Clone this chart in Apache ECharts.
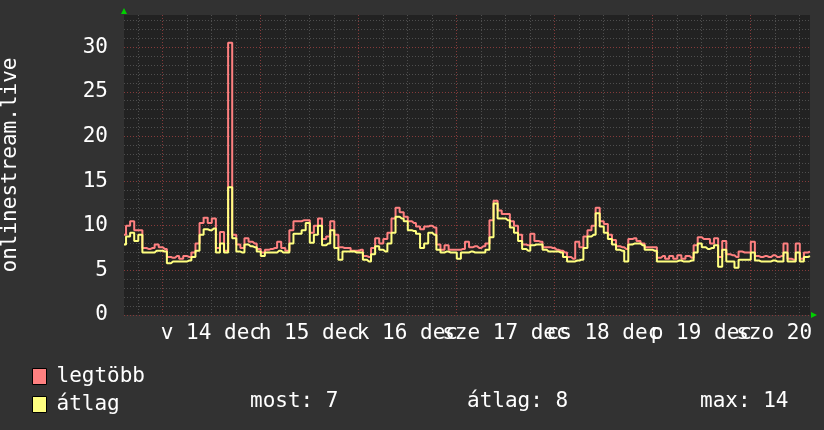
<!DOCTYPE html>
<html>
<head>
<meta charset="utf-8">
<script src="https://cdn.jsdelivr.net/npm/echarts@6/dist/echarts.min.js"></script>
<style>
html, body { margin: 0; padding: 0; background: #323232; }
#c { width: 824px; height: 430px; }
</style>
</head>
<body>
<div id="c"></div>
<script>
// ---- data ----
const seriesNames = ['legtöbb', 'átlag'];
// time in hours relative to 14 Dec 00:00; one sample per hour
const firstHour = -9.4;
const lastHour = 158.6;
const maxValues = [
  9.0, 10.0, 10.5, 9.5, 9.5, 7.5, 7.4, 7.5, 7.9, 7.6,
  7.4, 6.5, 6.4, 6.6, 6.3, 6.6, 6.5, 7.0, 8.0, 10.3,
  10.9, 10.3, 10.8, 7.5, 9.3, 7.2, 30.5, 9.0, 7.9, 7.5,
  8.6, 8.2, 8.0, 7.4, 7.0, 7.3, 7.4, 7.5, 8.2, 7.5,
  7.2, 9.5, 10.5, 10.5, 10.6, 10.6, 9.2, 10.0, 10.8, 8.5,
  8.8, 10.5, 9.0, 7.6, 7.5, 7.5, 7.2, 7.2, 7.3, 6.6,
  6.5, 7.5, 8.6, 8.0, 8.5, 9.2, 10.8, 12.0, 11.5, 11.0,
  10.5, 10.3, 9.9, 9.6, 9.9, 10.0, 9.8, 7.9, 7.3, 7.8,
  7.3, 7.3, 7.3, 7.4, 8.2, 7.6, 7.7, 7.5, 7.7, 8.0,
  10.6, 12.8, 11.7, 11.3, 11.3, 10.5, 10.0, 9.0, 7.9, 7.8,
  9.1, 8.3, 8.2, 7.6, 7.6, 7.5, 7.3, 7.2, 7.0, 6.5,
  6.3, 8.2, 7.6, 8.8, 9.5, 10.0, 12.0, 10.5, 10.2, 9.0,
  8.4, 7.7, 7.6, 7.4, 8.5, 8.6, 8.3, 8.0, 7.6, 7.6,
  7.6, 6.4, 6.6, 6.3, 6.6, 6.3, 6.7, 6.3, 6.6, 6.4,
  7.8, 8.7, 8.5, 8.5, 8.0, 8.6, 6.5, 8.3, 6.8, 6.7,
  6.5, 7.1, 7.0, 7.0, 8.2, 6.6, 6.5, 6.6, 6.5, 6.7,
  6.5, 6.6, 8.0, 6.3, 6.2, 8.0, 6.3, 7.0, 7.1
];
const avgValues = [
  7.9, 8.8, 9.2, 8.3, 9.0, 7.0, 7.0, 7.0, 7.2, 7.2,
  7.1, 5.8, 6.0, 6.0, 6.0, 6.0, 6.1, 6.5, 7.2, 9.0,
  9.6, 9.5, 9.7, 7.0, 8.0, 7.0, 14.3, 8.6, 7.1, 7.0,
  7.9, 7.7, 7.6, 7.1, 6.6, 7.0, 7.0, 7.0, 7.2, 7.0,
  7.0, 8.0, 9.1, 9.1, 9.5, 10.3, 8.1, 9.0, 10.0, 7.8,
  8.0, 9.5, 7.5, 6.2, 7.1, 7.1, 7.1, 7.0, 7.0, 6.2,
  6.0, 6.8, 7.7, 7.3, 7.1, 8.0, 9.2, 11.0, 10.8, 10.5,
  9.5, 9.4, 9.1, 7.5, 8.0, 9.2, 9.0, 7.3, 7.0, 7.1,
  7.0, 7.0, 6.3, 7.0, 7.0, 7.1, 7.0, 7.0, 7.0, 7.3,
  8.7, 12.5, 10.8, 10.8, 10.6, 9.8, 9.2, 8.3, 7.4, 7.2,
  7.8, 7.9, 7.9, 7.3, 7.1, 7.1, 7.1, 7.0, 6.5, 6.0,
  6.0, 6.1, 6.2, 7.5, 8.8, 9.0, 11.4, 9.9, 9.2, 8.5,
  7.9, 7.3, 7.2, 6.0, 7.9, 8.0, 8.0, 7.8, 7.3, 7.3,
  7.2, 6.0, 6.0, 6.0, 6.0, 6.0, 6.1, 6.0, 6.0, 6.1,
  7.0, 8.0, 7.6, 7.4, 7.5, 7.8, 5.4, 7.3, 6.0, 6.0,
  5.3, 6.2, 6.2, 6.2, 7.0, 6.1, 6.0, 6.0, 6.0, 6.1,
  6.0, 6.0, 7.0, 6.0, 6.0, 7.0, 6.0, 6.5, 6.6
];
const dayLabels = ['v 14 dec', 'h 15 dec', 'k 16 dec', 'sze 17 dec', 'cs 18 dec', 'p 19 dec', 'szo 20 dec'];
const dayLabelHours = [12, 36, 60, 84, 108, 132, 156];
const dayLineHours = [0, 24, 48, 72, 96, 120, 144];
const sixHourLineHours = [-6, 6, 12, 18, 30, 36, 42, 54, 60, 66, 78, 84, 90, 102, 108, 114, 126, 132, 138, 150, 156];
const yMax = 33.6;
const yMajorTicks = [0, 5, 10, 15, 20, 25, 30];
const yMinorTicks = [1, 2, 3, 4, 6, 7, 8, 9, 11, 12, 13, 14, 16, 17, 18, 19, 21, 22, 23, 24, 26, 27, 28, 29, 31, 32, 33];
const statNames = ['most', 'átlag', 'max'];
const statValues = [7, 8, 14];
const axisTitle = 'onlinestream.live';

// ---- chart ----
const FONT = '"DejaVu Sans Mono", monospace';
const WHITE = '#ffffff';
const MAJOR = '#853a3a';
const MINOR = '#4e4e4e';
const GREEN = '#00d000';
const colors = ['#ff8080', '#ffff80'];
const statLefts = [250, 467, 700];

const toPoints = vals => vals.map((v, i) => [firstHour + i, v]);
const txt = (size) => ({ color: WHITE, fontSize: size, fontFamily: FONT, fontWeight: 'normal' });
// labels are split over two axes (every other day) so none of them gets hidden
const evenLabelHours = dayLabelHours.filter((h, i) => i % 2 === 0);
const oddLabelHours = dayLabelHours.filter((h, i) => i % 2 === 1);
const dayLabelStyle = (vals) => Object.assign(txt(21), {
  show: true,
  customValues: vals,
  formatter: v => dayLabels[dayLabelHours.indexOf(v)] || '',
  margin: 8, lineHeight: 21, hideOverlap: false,
  showMinLabel: true, showMaxLabel: true
});

const chart = echarts.init(document.getElementById('c'), null, { renderer: 'canvas', width: 824, height: 430 });

const option = {
  animation: false,
  backgroundColor: '#323232',
  textStyle: { fontFamily: FONT },
  grid: {
    left: 124, right: 14, top: 15, bottom: 115,
    show: true, backgroundColor: '#222222', borderWidth: 0,
    containLabel: false, outerBoundsMode: 'none'
  },
  title: statNames.map((n, i) => ({
    text: n + ': ' + statValues[i],
    left: statLefts[i], top: 391, padding: 0,
    textStyle: Object.assign(txt(21), { lineHeight: 21 })
  })),
  legend: seriesNames.map((n, i) => ({
    data: [n], left: 32, top: 366 + i * 28, padding: 0,
    icon: 'rect', itemWidth: 14, itemHeight: 16,
    itemStyle: { borderColor: '#000000', borderWidth: 1 },
    selectedMode: false,
    textStyle: Object.assign(txt(21), { padding: [0, 0, 0, 5] })
  })),
  xAxis: [
    {
      type: 'value', min: firstHour, max: lastHour, position: 'bottom', z: 1,
      axisLine: { show: true, onZero: false, symbol: ['none', 'triangle'], symbolSize: [6, 6], symbolOffset: [0, 4], lineStyle: { color: GREEN, width: 0 } },
      axisTick: { show: false, customValues: dayLineHours },
      splitLine: { show: true, lineStyle: { color: MAJOR, width: 1, type: [1, 2] } },
      axisLabel: dayLabelStyle(evenLabelHours)
    },
    {
      type: 'value', min: firstHour, max: lastHour, position: 'bottom', z: 0,
      axisLine: { show: false, onZero: false },
      axisTick: { show: false, customValues: sixHourLineHours },
      axisLabel: dayLabelStyle(oddLabelHours),
      splitLine: { show: true, lineStyle: { color: MINOR, width: 1, type: [1, 2] } }
    }
  ],
  yAxis: [
    {
      type: 'value', min: 0, max: yMax, z: 1,
      name: axisTitle, nameLocation: 'middle', nameGap: 103, nameRotate: 90,
      nameTextStyle: txt(21),
      axisLine: { show: true, onZero: false, symbol: ['none', 'triangle'], symbolSize: [6, 6], symbolOffset: [0, 4], lineStyle: { color: GREEN, width: 0 } },
      axisTick: { show: false, customValues: yMajorTicks },
      axisLabel: Object.assign(txt(21), { customValues: yMajorTicks, margin: 16, showMinLabel: true, showMaxLabel: true }),
      splitLine: { show: true, lineStyle: { color: MAJOR, width: 1, type: [1, 2] } }
    },
    {
      type: 'value', min: 0, max: yMax, z: 0, position: 'left',
      axisLine: { show: false, onZero: false },
      axisTick: { show: false, customValues: yMinorTicks },
      axisLabel: { show: false },
      splitLine: { show: true, lineStyle: { color: MINOR, width: 1, type: [1, 2] } }
    }
  ],
  series: [maxValues, avgValues].map((vals, i) => ({
    name: seriesNames[i], type: 'line', xAxisIndex: 0, yAxisIndex: 0,
    data: toPoints(vals), step: 'middle', symbol: 'none', showSymbol: false,
    color: colors[i], lineStyle: { color: colors[i], width: 2 }, z: 3 + i
  }))
};
chart.setOption(option);
</script>
</body>
</html>
